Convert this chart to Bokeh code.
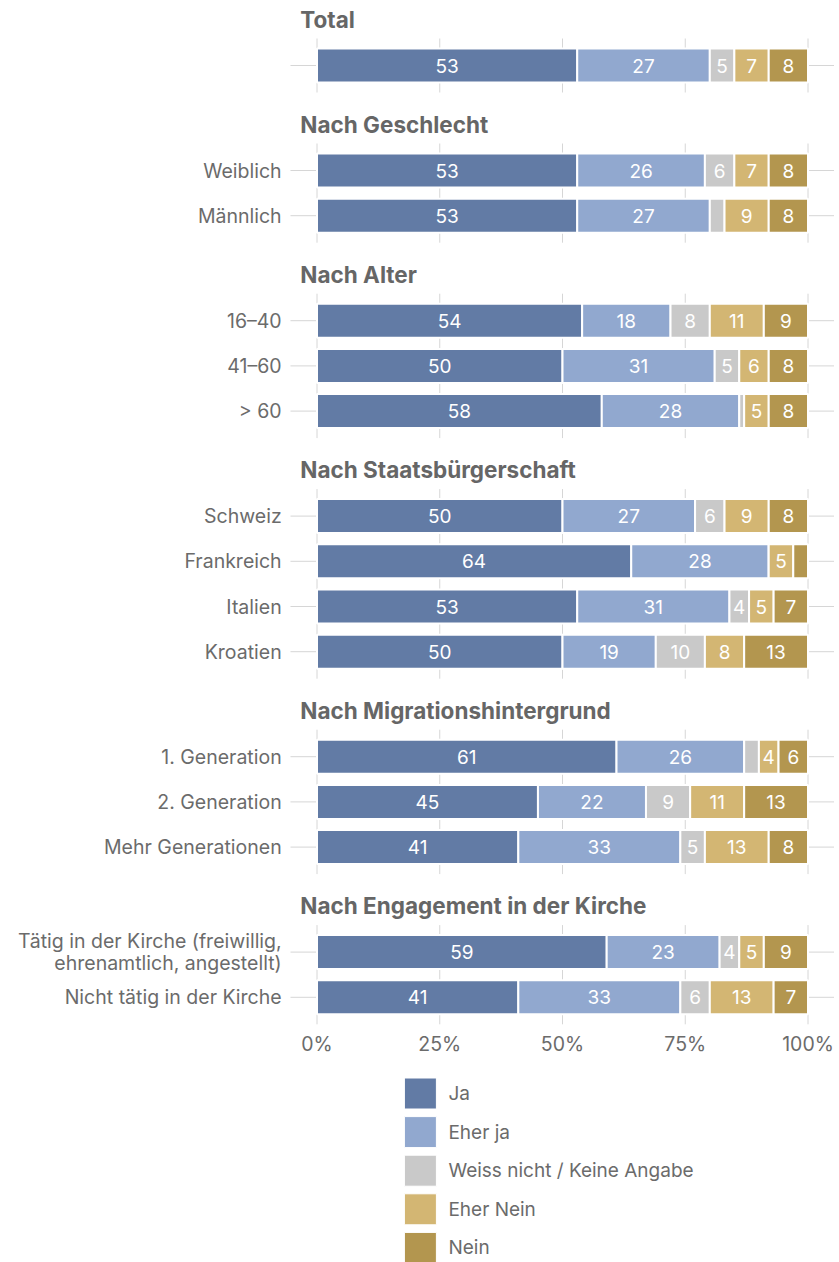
from bokeh.plotting import figure
from bokeh.models import Range1d, ColumnDataSource
from bokeh.core.properties import value
from bokeh.embed import file_html
from bokeh.resources import INLINE

# ---------------- data ----------------
groups = ["Total", "Nach Geschlecht", "Nach Alter", "Nach Staatsbürgerschaft",
          "Nach Migrationshintergrund", "Nach Engagement in der Kirche"]
group_rows = [
    [""],
    ["Weiblich", "Männlich"],
    ["16–40", "41–60", "> 60"],
    ["Schweiz", "Frankreich", "Italien", "Kroatien"],
    ["1. Generation", "2. Generation", "Mehr Generationen"],
    ["Tätig in der Kirche (freiwillig,\nehrenamtlich, angestellt)", "Nicht tätig in der Kirche"],
]
answers = ["Ja", "Eher ja", "Weiss nicht / Keine Angabe", "Eher Nein", "Nein"]
colors = ["#627ba5", "#91a8cf", "#c9c9c9", "#d3b673", "#b3964f"]
ja        = [53, 53, 53, 54, 50, 58, 50, 64, 53, 50, 61, 45, 41, 59, 41]
eher_ja   = [27, 26, 27, 18, 31, 28, 27, 28, 31, 19, 26, 22, 33, 23, 33]
weiss     = [5, 6, 3, 8, 5, 1, 6, 0, 4, 10, 3, 9, 5, 4, 6]
eher_nein = [7, 7, 9, 11, 6, 5, 9, 5, 5, 8, 4, 11, 13, 5, 13]
nein      = [8, 8, 8, 9, 8, 8, 8, 3, 7, 13, 6, 13, 8, 9, 7]
series = [ja, eher_ja, weiss, eher_nein, nein]
x_ticks = [0, 25, 50, 75, 100]
tick_labels = ["0%", "25%", "50%", "75%", "100%"]

# ---------------- layout ----------------
W, H = 839, 1262
X0_SCREEN, PX_PER_PCT = 316.5, 4.91     # 0% position inside figure, px per percent
FIRST_ROW, ROW_GAP, GROUP_GAP, HEAD_OFF = 65, 45.2, 105, 46.5
BAR_H, PANEL_PAD = 34, 27
LINE_SPACING = 22

FONT = "Inter"
GRAY_TXT = "#6b6b6b"
GRID = "#d6d6d6"

x_start = -X0_SCREEN / PX_PER_PCT
x_end = (W - X0_SCREEN) / PX_PER_PCT

p = figure(width=W, height=H, output_backend="svg", toolbar_location=None,
           x_range=Range1d(x_start, x_end), y_range=Range1d(H, 0),
           min_border=0, x_axis_type=None, y_axis_type=None)
p.grid.visible = False
p.outline_line_color = None
p.background_fill_color = "white"

# compute row positions
row_y, row_lab, head_y, panels = [], [], [], []
y = FIRST_ROW
for gi, rows in enumerate(group_rows):
    head_y.append(y - HEAD_OFF)
    first = y
    for r in rows:
        row_y.append(y)
        row_lab.append(r)
        y += ROW_GAP
    last = y - ROW_GAP
    panels.append((first - PANEL_PAD, last + PANEL_PAD))
    y = last + GROUP_GAP

# horizontal grid stubs
p.segment(x0=[-5.4] * len(row_y), x1=[105.3] * len(row_y), y0=row_y, y1=row_y,
          line_color=GRID, line_width=1)
# vertical grid stubs per panel
vx, vy0, vy1 = [], [], []
for top, bot in panels:
    for t in x_ticks:
        vx.append(t); vy0.append(top); vy1.append(bot)
p.segment(x0=vx, x1=vx, y0=vy0, y1=vy1, line_color=GRID, line_width=1)

# stacked bars
lefts = [0.0] * len(row_y)
lx, ly, lt = [], [], []
for si, vals in enumerate(series):
    rights = [l + v for l, v in zip(lefts, vals)]
    src = ColumnDataSource(dict(y=row_y, left=lefts, right=rights))
    p.hbar(y="y", left="left", right="right", height=BAR_H, source=src,
           fill_color=colors[si], line_color="white", line_width=2)
    for l, r, v, yy in zip(lefts, rights, vals, row_y):
        if v >= 4:
            lx.append((l + r) / 2); ly.append(yy); lt.append(str(v))
    lefts = rights
p.text(x=lx, y=ly, text=lt, text_color="white", text_align="center",
       text_baseline="middle", text_font=value(FONT), text_font_size="19px")

# category labels (multi-line labels split into separate lines)
cx, cy, ct = [], [], []
for lab, yy in zip(row_lab, row_y):
    lines = lab.split("\n")
    n = len(lines)
    for i, ln in enumerate(lines):
        cx.append(-7.2)
        cy.append(yy + (i - (n - 1) / 2) * LINE_SPACING)
        ct.append(ln)
p.text(x=cx, y=cy, text=ct, text_color=GRAY_TXT,
       text_align="right", text_baseline="middle", text_font=value(FONT),
       text_font_size="19.5px")

# group headings
p.text(x=[-3.4] * len(head_y), y=head_y, text=groups, text_color="#666666",
       text_align="left", text_baseline="middle", text_font=value(FONT),
       text_font_size="22.5px", text_font_style="bold")

# x tick labels
tick_y = row_y[-1] + 47
p.text(x=x_ticks, y=[tick_y] * len(x_ticks), text=tick_labels, text_color=GRAY_TXT,
       text_align="center", text_baseline="middle", text_font=value(FONT),
       text_font_size="19.5px")

# legend
LEG_X, LEG_Y0, LEG_GAP = 17.8, 1093, 38.6
leg_y = [LEG_Y0 + i * LEG_GAP for i in range(len(answers))]
p.rect(x=[LEG_X + 16 / PX_PER_PCT] * len(answers), y=leg_y, width=32, height=31,
       width_units="screen", height_units="screen", fill_color=colors,
       line_color="white", line_width=1)
p.text(x=[LEG_X + 44 / PX_PER_PCT] * len(answers), y=leg_y, text=answers,
       text_color=GRAY_TXT, text_align="left", text_baseline="middle",
       text_font=value(FONT), text_font_size="19px")

open("out.html", "w").write(file_html(p, INLINE))
